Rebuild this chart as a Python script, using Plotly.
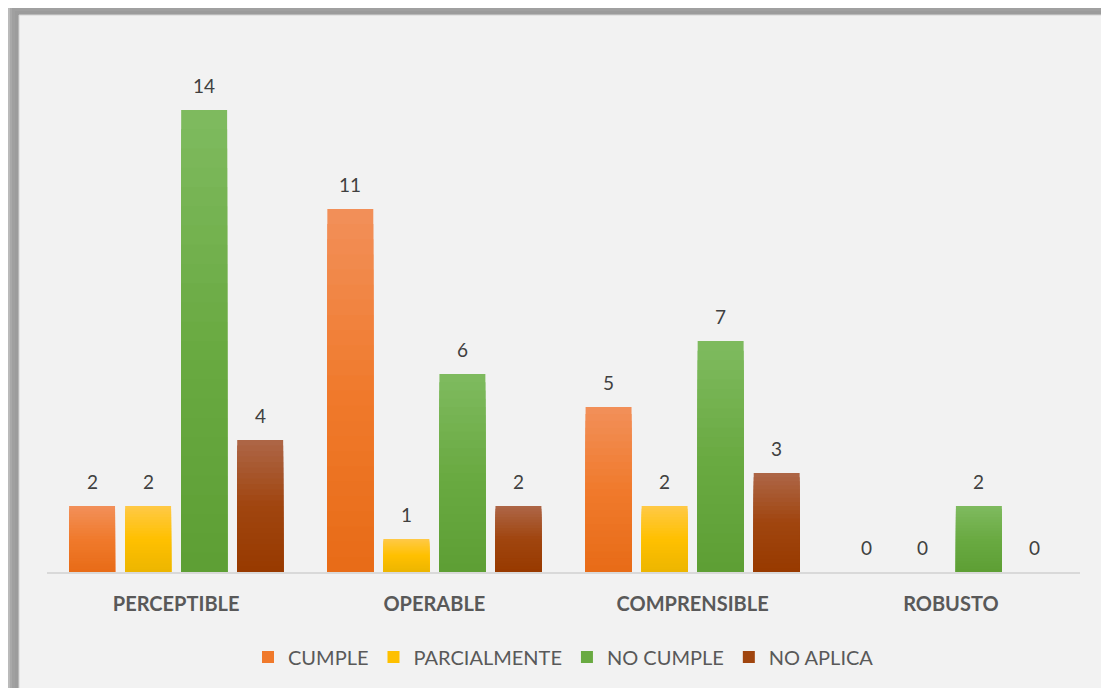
import plotly.graph_objects as go

categories = ["PERCEPTIBLE", "OPERABLE", "COMPRENSIBLE", "ROBUSTO"]
series_names = ["CUMPLE", "PARCIALMENTE", "NO CUMPLE", "NO APLICA"]
cumple = [2, 11, 5, 0]
parcialmente = [2, 1, 2, 0]
no_cumple = [14, 6, 7, 2]
no_aplica = [4, 2, 3, 0]
series_values = [cumple, parcialmente, no_cumple, no_aplica]

# gradient colour stops (top, middle, bottom) per series
stops = [
    ("#F28F58", "#F07A2C", "#E86C18"),
    ("#FFC944", "#FFC000", "#EDB600"),
    ("#7EBA5E", "#6AAA42", "#5E9F35"),
    ("#AD6545", "#A0450F", "#983A00"),
]

# the page body has an 8px margin, so the figure is sized to avoid scrollbars
W, H = 1093, 680
OFF = 8  # page offset of the figure
L, R, T, B = 39, 21, 36, 116
YMAX = 16
BARGAP = 0.132
GROUPGAP = 0.18
N = 24


def hex2rgb(h):
    h = h.lstrip("#")
    return [int(h[i:i + 2], 16) for i in (0, 2, 4)]


def mix(c1, c2, t):
    a, b = hex2rgb(c1), hex2rgb(c2)
    return "rgb(%d,%d,%d)" % tuple(round(a[i] + (b[i] - a[i]) * t) for i in range(3))


def grad(top, mid, bot, f):
    if f < 0.5:
        return mix(top, mid, f / 0.5)
    return mix(mid, bot, (f - 0.5) / 0.5)


fig = go.Figure()
for j, (name, vals) in enumerate(zip(series_names, series_values)):
    top, mid, bot = stops[j]
    for k in range(N):
        frac = (N - k) / N
        f = k / (N - 1)
        fig.add_trace(go.Bar(
            x=categories,
            y=[v * frac for v in vals],
            name=name,
            legendgroup=name,
            showlegend=(k == N // 2),
            offsetgroup=name,
            marker=dict(color=grad(top, mid, bot, f), line=dict(width=0)),
            hoverinfo="skip",
        ))

slot = (1 - BARGAP) / 4
annotations = []
for j, vals in enumerate(series_values):
    for i, v in enumerate(vals):
        annotations.append(dict(
            x=i - (1 - BARGAP) / 2 + slot * (j + 0.5), y=v,
            xref="x", yref="y", text=str(v), showarrow=False,
            yanchor="bottom", yshift=11,
            font=dict(family="Lato", size=19, color="#404040"),
        ))


# page pixel -> paper coordinates (decoration only)
def px2x(px):
    return (px - OFF - L) / (W - L - R)


def px2y(py):
    return (H - B - (py - OFF)) / (H - T - B)


shapes = []
shadow = [(17, "#F6F6F6"), (15, "#E6E6E6"), (13, "#CFCFCF"), (11, "#BABABA"),
          (9, "#A9A9A9"), (7, "#A0A0A0"), (4, "#9C9C9C")]
fx, fy = 19, 15
for d, col in shadow:
    shapes.append(dict(type="rect", xref="paper", yref="paper", layer="below",
                       x0=px2x(fx - d), x1=px2x(1200), y0=px2y(800), y1=px2y(fy - d),
                       fillcolor=col, line=dict(width=0)))
shapes.append(dict(type="rect", xref="paper", yref="paper", layer="below",
                   x0=px2x(fx), x1=px2x(1200), y0=px2y(800), y1=px2y(fy),
                   fillcolor="#F2F2F2", line=dict(width=1, color="#D4D4D4")))

fig.update_layout(
    width=W, height=H,
    margin=dict(l=L, r=R, t=T, b=B, pad=0),
    paper_bgcolor="#F2F2F2",
    plot_bgcolor="rgba(0,0,0,0)",
    barmode="group",
    bargap=BARGAP,
    bargroupgap=GROUPGAP,
    shapes=shapes,
    annotations=annotations,
    showlegend=True,
    legend=dict(orientation="h", x=0.5, xanchor="center", y=px2y(657), yanchor="middle",
                font=dict(family="Lato", size=20, color="#595959"),
                itemwidth=30, traceorder="normal", bgcolor="rgba(0,0,0,0)"),
    xaxis=dict(showgrid=False, showline=True, linecolor="#D9D9D9", linewidth=2,
               ticks="", zeroline=False, ticklabelstandoff=13,
               tickfont=dict(family="Lato", size=20, color="#595959", weight="bold")),
    yaxis=dict(range=[0, YMAX], visible=False, showgrid=False, zeroline=False),
    font=dict(family="Lato"),
)

fig.write_html("out.html")
